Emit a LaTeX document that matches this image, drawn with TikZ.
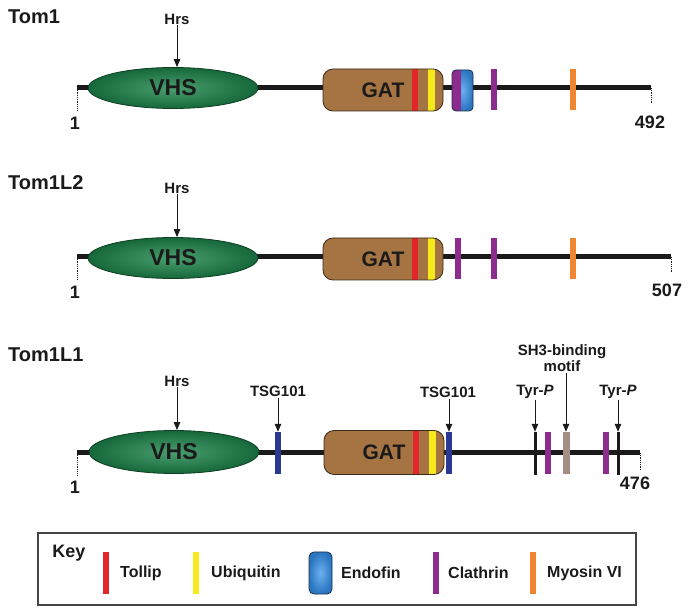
\documentclass[tikz,border=0pt]{standalone}
\usepackage{fontspec}
\setmainfont{Liberation Sans}
\usetikzlibrary{arrows.meta,shapes.geometric}
\definecolor{ink}{HTML}{1A1A1A}
\definecolor{vhsin}{HTML}{4A9E6E}
\definecolor{vhsout}{HTML}{16683A}
\definecolor{vhsline}{HTML}{0E3F22}
\definecolor{gatA}{HTML}{A67442}
\definecolor{gatB}{HTML}{C29A6E}
\definecolor{gatline}{HTML}{3A2A1A}
\definecolor{tollipc}{HTML}{E3262B}
\definecolor{ubiqc}{HTML}{F7EA1C}
\definecolor{clathc}{HTML}{8E2B8E}
\definecolor{myoc}{HTML}{F0862F}
\definecolor{tsgc}{HTML}{2C3993}
\definecolor{shc}{HTML}{A58F85}
\definecolor{endin}{HTML}{6DB0F0}
\definecolor{endout}{HTML}{2A76C0}
\definecolor{endline}{HTML}{1A2E48}
\definecolor{keyline}{HTML}{444444}
\begin{document}
\begin{tikzpicture}[x=1pt,y=-1pt,
  backbone/.style={line width=5pt, draw=ink},
  tickline/.style={densely dotted, line width=0.8pt, draw=ink},
  vhsnode/.style={ellipse, minimum width=170pt, minimum height=41pt, inner sep=0pt,
    draw=vhsline, line width=0.8pt, inner color=vhsin, outer color=vhsout,
    font=\bfseries\fontsize{23}{25}\selectfont, text=ink},
  gatnode/.style={rectangle, rounded corners=10pt, minimum width=120pt, minimum height=42pt,
    inner sep=0pt, draw=gatline, line width=0.8pt, left color=gatA, middle color=gatB, right color=gatA,
    font=\bfseries\fontsize{21}{23}\selectfont, text=ink,
    path picture={
      \fill[tollipc, sharp corners] ([xshift=89pt]path picture bounding box.south west) rectangle ([xshift=95pt]path picture bounding box.north west);
      \fill[ubiqc, sharp corners] ([xshift=105pt]path picture bounding box.south west) rectangle ([xshift=112pt]path picture bounding box.north west);
    }},
  endonode/.style={rectangle, rounded corners=4pt, minimum width=21pt, minimum height=41pt, inner sep=0pt,
    draw=endline, line width=0.8pt, inner color=endin, outer color=endout},
  motifbar/.style={rectangle, minimum width=6pt, minimum height=41pt, inner sep=0pt, fill=#1},
  thinbar/.style={rectangle, minimum width=3pt, minimum height=43pt, inner sep=0pt, fill=ink},
  title/.style={font=\bfseries\fontsize{20}{22}\selectfont, text=ink, anchor=west, inner sep=0pt},
  small/.style={font=\bfseries\fontsize{15}{17}\selectfont, text=ink, inner sep=1pt, align=center},
  numlbl/.style={font=\bfseries\fontsize{18}{20}\selectfont, text=ink, inner sep=0pt},
  keytext/.style={font=\bfseries\fontsize{16}{18}\selectfont, text=ink, anchor=west, inner sep=0pt},
  arr/.style={-{Triangle[length=8pt,width=6.5pt]}, line width=1pt, draw=ink},
]
\useasboundingbox (0,0) rectangle (689,612);

% ---------------- Tom1 ----------------
\node[title] (t1) at (8,17) {Tom1};
\coordinate (s1) at (77,88);
\coordinate (e1) at (651,88);
\coordinate (s1b) at (77,110);
\coordinate (e1b) at (651,103);
\draw[backbone] (s1) -- (e1);
\draw[tickline] (s1) -- (s1b);
\draw[tickline] (e1) -- (e1b);
\node[vhsnode] (vhs1) at (173,88) {VHS};
\node[gatnode] (gat1) at (383,90) {GAT};
\node[endonode, path picture={\fill[clathc, sharp corners] (path picture bounding box.south west) rectangle ([xshift=9pt]path picture bounding box.north west);}] (endo1) at (462.5,90.5) {};
\node[motifbar=clathc] (cl1) at (494,90) {};
\node[motifbar=myoc] (my1) at (573,90) {};
\node[small] (hrs1) at (177,19) {Hrs};
\draw[arr] (hrs1.south) -- (hrs1.south |- vhs1.north);
\node[numlbl] (n1a) at (75,123) {1};
\node[numlbl] (n1b) at (650,122) {492};

% ---------------- Tom1L2 ----------------
\node[title] (t2) at (8,183) {Tom1L2};
\coordinate (s2) at (77,257);
\coordinate (e2) at (671,257);
\coordinate (s2b) at (77,279);
\coordinate (e2b) at (671,273);
\draw[backbone] (s2) -- (e2);
\draw[tickline] (s2) -- (s2b);
\draw[tickline] (e2) -- (e2b);
\node[vhsnode] (vhs2) at (173,258) {VHS};
\node[gatnode] (gat2) at (383,259) {GAT};
\node[motifbar=clathc] (cl2a) at (458,258.5) {};
\node[motifbar=clathc] (cl2b) at (494,258.5) {};
\node[motifbar=myoc] (my2) at (573,258.5) {};
\node[small] (hrs2) at (177,188) {Hrs};
\draw[arr] (hrs2.south) -- (hrs2.south |- vhs2.north);
\node[numlbl] (n2a) at (75,292) {1};
\node[numlbl] (n2b) at (667,290) {507};

% ---------------- Tom1L1 ----------------
\node[title] (t3) at (8,355) {Tom1L1};
\coordinate (s3) at (77,453);
\coordinate (e3) at (640,453);
\coordinate (s3b) at (77,475);
\coordinate (e3b) at (640,470);
\draw[backbone] (s3) -- (e3);
\draw[tickline] (s3) -- (s3b);
\draw[tickline] (e3) -- (e3b);
\node[vhsnode, minimum height=43pt] (vhs3) at (174,452) {VHS};
\node[gatnode, minimum height=44pt] (gat3) at (384,452.5) {GAT};
\node[motifbar=tsgc, minimum height=42pt] (tsg3a) at (278,453) {};
\node[motifbar=tsgc, minimum height=42pt] (tsg3b) at (449,453) {};
\node[thinbar] (ty3a) at (535,453.5) {};
\node[motifbar=clathc, minimum height=42pt] (cl3a) at (548,453) {};
\node[motifbar=shc, minimum width=7pt, minimum height=42pt] (sh3) at (566,453) {};
\node[motifbar=clathc, minimum height=42pt] (cl3b) at (606,453) {};
\node[thinbar] (ty3b) at (618,453.5) {};
\node[small] (hrs3) at (177,381) {Hrs};
\draw[arr] (hrs3.south) -- (hrs3.south |- vhs3.north);
\node[small] (tsgl1) at (278,391) {TSG101};
\draw[arr] (tsgl1.south -| tsg3a) -- (tsg3a.north);
\node[small] (tsgl2) at (448,392) {TSG101};
\draw[arr] (tsgl2.south -| tsg3b) -- (tsg3b.north);
\node[small] (tyl1) at (535,392) {Tyr-\textit{P}};
\draw[arr] (tyl1.south -| ty3a) -- (ty3a.north);
\node[small] (tyl2) at (618,392) {Tyr-\textit{P}};
\draw[arr] (tyl2.south -| ty3b) -- (ty3b.north);
\node[small] (shl) at (562,358.5) {SH3-binding\\[-1pt]motif};
\draw[arr] (shl.south -| sh3) -- (sh3.north);
\node[numlbl] (n3a) at (75,487) {1};
\node[numlbl] (n3b) at (635,483) {476};

% ---------------- Key ----------------
\node[draw=keyline, line width=1.2pt, rectangle, minimum width=598pt, minimum height=72pt, inner sep=0pt] (keybox) at (337,569) {};
\node[font=\bfseries\fontsize{18}{20}\selectfont, text=ink, inner sep=0pt] (keyt) at (69,553) {Key};
\node[motifbar=tollipc] (k1) at (106,573) {};
\node[keytext] (k1t) at (120,573) {Tollip};
\node[motifbar=ubiqc] (k2) at (196,573) {};
\node[keytext] (k2t) at (211,573) {Ubiquitin};
\node[endonode, minimum width=23pt, minimum height=42pt, rounded corners=5pt] (k3) at (320.5,573) {};
\node[keytext] (k3t) at (341,573) {Endofin};
\node[motifbar=clathc] (k4) at (436,573) {};
\node[keytext] (k4t) at (448,573) {Clathrin};
\node[motifbar=myoc] (k5) at (533,573) {};
\node[keytext] (k5t) at (547,573) {Myosin VI};
\end{tikzpicture}
\end{document}
